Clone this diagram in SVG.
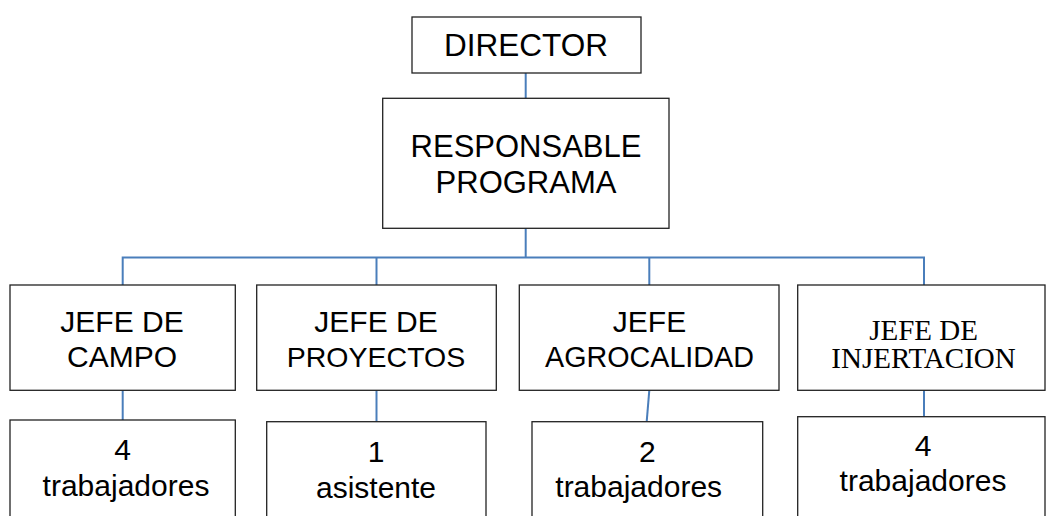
<svg xmlns="http://www.w3.org/2000/svg" width="1046" height="516" viewBox="0 0 1046 516">
<style>
.box{fill:#fff;stroke:#222;stroke-width:1.3}
.t{font-family:"Liberation Sans",Arial,sans-serif;font-size:30px;fill:#000;text-anchor:middle}
.s{font-family:"Liberation Serif","Times New Roman",serif;font-size:29px;fill:#000;text-anchor:middle}
.c{fill:none;stroke:#4a7ebb;stroke-width:2}
</style>
<rect width="1046" height="516" fill="#fff"/>
<g id="connectors">
<line class="c" x1="525.7" y1="73" x2="525.7" y2="98"/>
<line class="c" x1="525.7" y1="228" x2="525.7" y2="257.5"/>
<polyline class="c" points="122.7,285 122.7,257.5 924,257.5 924,285"/>
<line class="c" x1="376.5" y1="257.5" x2="376.5" y2="285"/>
<line class="c" x1="649.3" y1="257.5" x2="649.3" y2="285"/>
<line class="c" x1="122.7" y1="390.3" x2="122.7" y2="420"/>
<line class="c" x1="376.5" y1="390.3" x2="376.5" y2="421.7"/>
<line class="c" x1="649.3" y1="390.3" x2="646.7" y2="421.7"/>
<line class="c" x1="924" y1="390.3" x2="924" y2="416.7"/>
</g>
<g id="director">
<rect class="box" x="412" y="17" width="229" height="56"/>
<text class="t" x="526" y="55.7" style="font-size:31.5px">DIRECTOR</text>
</g>
<g id="responsable">
<rect class="box" x="382.7" y="98.3" width="286.3" height="130"/>
<text class="t" x="526" y="156.7" style="font-size:31px">RESPONSABLE</text>
<text class="t" x="526" y="193.3" style="font-size:31px">PROGRAMA</text>
</g>
<g id="jefe-campo">
<rect class="box" x="10" y="285" width="225.3" height="105.3"/>
<text class="t" x="122" y="331.7">JEFE DE</text>
<text class="t" x="122" y="367.3">CAMPO</text>
</g>
<g id="jefe-proyectos">
<rect class="box" x="256.7" y="285" width="239.6" height="105.3"/>
<text class="t" x="376" y="331.7">JEFE DE</text>
<text class="t" x="376" y="366.7" style="font-size:28.5px">PROYECTOS</text>
</g>
<g id="jefe-agrocalidad">
<rect class="box" x="519.3" y="285" width="259.7" height="105.3"/>
<text class="t" x="649.5" y="331.7">JEFE</text>
<text class="t" x="649.5" y="367.3" style="font-size:28.7px">AGROCALIDAD</text>
</g>
<g id="jefe-injertacion">
<rect class="box" x="797.7" y="285" width="247.3" height="105.3"/>
<text class="s" x="923.5" y="339.5">JEFE DE</text>
<text class="s" x="923.5" y="368.3">INJERTACION</text>
</g>
<g id="trab-campo">
<rect class="box" x="10" y="420" width="225.3" height="110"/>
<text class="t" x="122.5" y="460">4</text>
<text class="t" x="126" y="496">trabajadores</text>
</g>
<g id="asistente">
<rect class="box" x="266.7" y="421.7" width="219.3" height="110"/>
<text class="t" x="376" y="461.7">1</text>
<text class="t" x="376" y="498.3">asistente</text>
</g>
<g id="trab-agrocalidad">
<rect class="box" x="532" y="421.7" width="230.7" height="110"/>
<text class="t" x="647.3" y="462.3">2</text>
<text class="t" x="638.7" y="496.7">trabajadores</text>
</g>
<g id="trab-injertacion">
<rect class="box" x="797.7" y="416.7" width="247.3" height="110"/>
<text class="t" x="923" y="456">4</text>
<text class="t" x="923" y="490.7">trabajadores</text>
</g>
</svg>
